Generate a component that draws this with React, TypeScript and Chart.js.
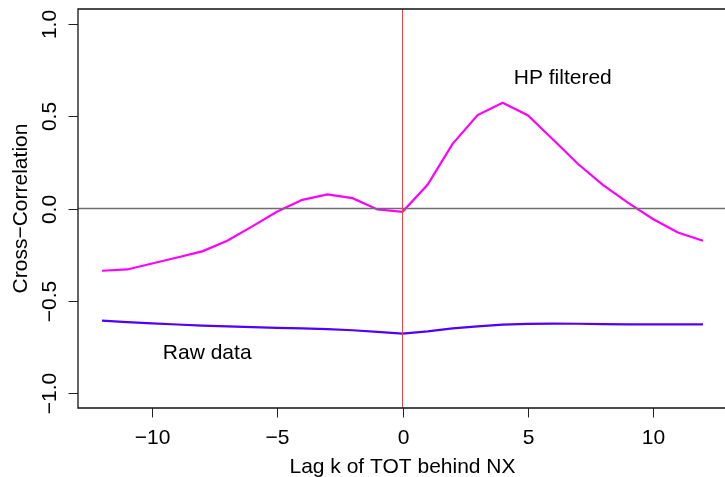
import React, { useEffect, useRef } from "react";
import { Chart, registerables } from "chart.js";

Chart.register(...registerables);

const lags = [-12, -11, -10, -9, -8, -7, -6, -5, -4, -3, -2, -1, 0, 1, 2, 3, 4, 5, 6, 7, 8, 9, 10, 11, 12];
const hpFiltered = [-0.337, -0.33, -0.298, -0.265, -0.232, -0.175, -0.097, -0.016, 0.047, 0.076, 0.056, -0.005, -0.018, 0.128, 0.35, 0.506, 0.573, 0.505, 0.375, 0.242, 0.128, 0.032, -0.057, -0.13, -0.175];
const rawData = [-0.607, -0.615, -0.622, -0.628, -0.634, -0.638, -0.642, -0.646, -0.649, -0.653, -0.659, -0.668, -0.677, -0.665, -0.649, -0.638, -0.629, -0.625, -0.623, -0.624, -0.626, -0.627, -0.627, -0.627, -0.627];

const xTicks = [-10, -5, 0, 5, 10];
const xTickLabels = ["\u221210", "\u22125", "0", "5", "10"];
const yTicks = [-1, -0.5, 0, 0.5, 1];
const yTickLabels = ["\u22121.0", "\u22120.5", "0.0", "0.5", "1.0"];

const xTitle = "Lag k of TOT behind NX";
const yTitle = "Cross\u2212Correlation";
const hpLabel = { text: "HP filtered", x: 6.4, y: 0.708 };
const rawLabel = { text: "Raw data", x: -7.8, y: -0.781 };

const FONT = '21px "Liberation Sans", Arial, Helvetica, sans-serif';

const basePlotPlugin = {
  id: "basePlot",
  afterDatasetsDraw(chart: any) {
    const { ctx, chartArea, scales } = chart;
    const xs = scales.x;
    const ys = scales.y;
    ctx.save();
    // reference lines
    ctx.lineWidth = 1.3;
    ctx.strokeStyle = "#6e6e6e";
    const y0 = ys.getPixelForValue(0);
    ctx.beginPath();
    ctx.moveTo(chartArea.left, y0);
    ctx.lineTo(chartArea.right + 5, y0);
    ctx.stroke();
    ctx.lineWidth = 1;
    ctx.strokeStyle = "#e8474a";
    const x0 = xs.getPixelForValue(0);
    ctx.beginPath();
    ctx.moveTo(x0, chartArea.top);
    ctx.lineTo(x0, chartArea.bottom);
    ctx.stroke();

    // frame
    ctx.lineWidth = 1.3;
    ctx.strokeStyle = "#111";
    ctx.beginPath();
    ctx.moveTo(chartArea.right + 5, chartArea.top);
    ctx.lineTo(chartArea.left, chartArea.top);
    ctx.lineTo(chartArea.left, chartArea.bottom);
    ctx.lineTo(chartArea.right + 5, chartArea.bottom);
    ctx.stroke();

    // ticks
    ctx.lineWidth = 1;
    ctx.strokeStyle = "#222";
    ctx.fillStyle = "#000";
    ctx.font = FONT;
    ctx.textAlign = "center";
    ctx.textBaseline = "alphabetic";
    xTicks.forEach((v, i) => {
      const px = Math.round(xs.getPixelForValue(v)) + 0.5;
      ctx.beginPath();
      ctx.moveTo(px, chartArea.bottom);
      ctx.lineTo(px, chartArea.bottom + 9.5);
      ctx.stroke();
      ctx.fillText(xTickLabels[i], px, chartArea.bottom + 36);
    });
    yTicks.forEach((v, i) => {
      const py = Math.round(ys.getPixelForValue(v)) + 0.5;
      ctx.beginPath();
      ctx.moveTo(chartArea.left, py);
      ctx.lineTo(chartArea.left - 9.5, py);
      ctx.stroke();
      ctx.save();
      ctx.translate(chartArea.left - 22, py);
      ctx.rotate(-Math.PI / 2);
      ctx.fillText(yTickLabels[i], 0, 0);
      ctx.restore();
    });

    // axis titles
    const midX = (xs.getPixelForValue(-12.96) + xs.getPixelForValue(12.96)) / 2;
    ctx.fillText(xTitle, midX, chartArea.bottom + 65);
    ctx.save();
    ctx.translate(27, (chartArea.top + chartArea.bottom) / 2);
    ctx.rotate(-Math.PI / 2);
    ctx.fillText(yTitle, 0, 0);
    ctx.restore();

    // annotations
    ctx.textBaseline = "middle";
    [hpLabel, rawLabel].forEach((l) => {
      ctx.fillText(l.text, xs.getPixelForValue(l.x), ys.getPixelForValue(l.y));
    });
    ctx.restore();
  },
};

export default function App() {
  const ref = useRef<HTMLCanvasElement | null>(null);
  useEffect(() => {
    document.body.style.margin = "0";
    const canvas = ref.current!;
    const chart = new Chart(canvas, {
      type: "line",
      data: {
        datasets: [
          {
            label: "HP filtered",
            data: lags.map((x, i) => ({ x, y: hpFiltered[i] })),
            borderColor: "#ff00ff",
            borderWidth: 2.2,
            pointRadius: 0,
            tension: 0,
            fill: false,
          },
          {
            label: "Raw data",
            data: lags.map((x, i) => ({ x, y: rawData[i] })),
            borderColor: "#5000ff",
            borderWidth: 2.2,
            pointRadius: 0,
            tension: 0,
            fill: false,
          },
        ],
      },
      options: {
        responsive: false,
        animation: false,
        events: [],
        layout: { padding: { left: 78, top: 9, right: 0, bottom: 69 } },
        plugins: { legend: { display: false }, tooltip: { enabled: false } },
        scales: {
          x: { type: "linear", display: false, min: -12.96, max: 12.88 },
          y: { type: "linear", display: false, min: -1.08, max: 1.08 },
        },
      },
      plugins: [basePlotPlugin],
    });
    return () => chart.destroy();
  }, []);
  return (
    <div style={{ position: "absolute", left: 0, top: 0, width: 725, height: 477, background: "#fff" }}>
      <canvas ref={ref} width={725} height={477} style={{ display: "block" }} />
    </div>
  );
}
